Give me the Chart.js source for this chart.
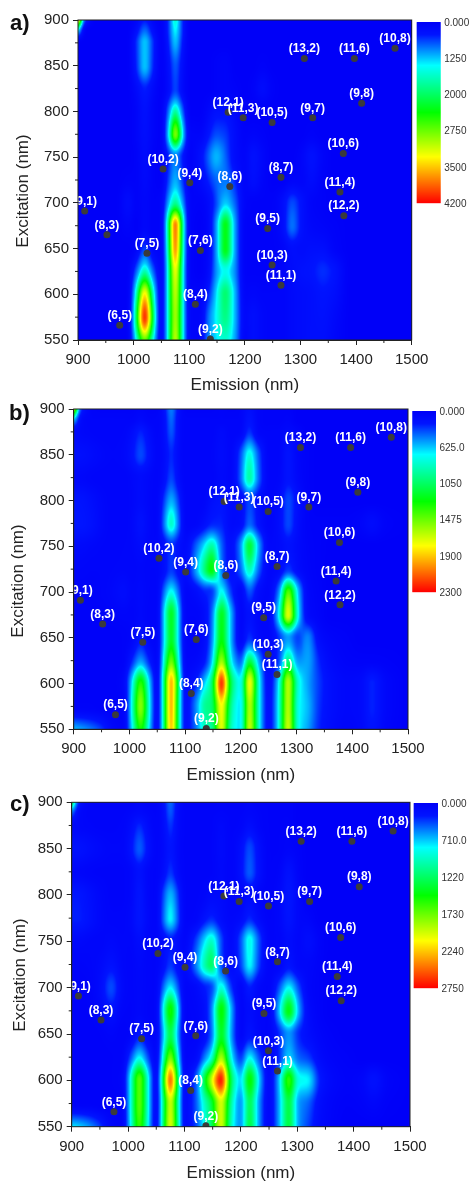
<!DOCTYPE html>
<html><head><meta charset="utf-8">
<script src="https://cdn.jsdelivr.net/npm/chart.js@4"></script>
<style>
html,body{margin:0;padding:0;background:#fff;width:471px;height:1182px;overflow:hidden}
canvas{position:absolute;left:0;filter:blur(0.35px)}
</style></head><body>
<canvas id="pa" width="471" height="396" style="top:0"></canvas>
<canvas id="pb" width="471" height="396" style="top:390px"></canvas>
<canvas id="pc" width="471" height="404" style="top:780px"></canvas>
<script>
const emission=[900,912,930,950,970,990,1005,1020,1035,1050,1062,1075,1088,1100,1120,1135,1148,1165,1182,1200,1215,1232,1250,1268,1285,1302,1320,1340,1360,1390,1415,1435,1460,1500];
const excitation=[900,888,875,850,825,800,775,750,725,700,675,650,625,600,575,550];
const assignments=['(6,5)','(7,5)','(8,3)','(9,1)','(8,4)','(9,2)','(10,2)','(9,4)','(7,6)','(8,6)','(12,1)','(11,3)','(10,5)','(9,7)','(9,8)','(13,2)','(11,6)','(10,8)','(10,6)','(8,7)','(11,4)','(12,2)','(9,5)','(10,3)','(11,1)'];
const assignEm=[975,1024,952,912,1111,1138,1053,1101,1120,1173,1170,1197,1249,1322,1410,1307,1397,1470,1377,1265,1371,1378,1241,1249,1265];
const assignEx=[566,645,665,691,589,551,737,722,648,718,799,793,788,793,809,858,858,869,754,728,712,686,672,632,610];
const ticksA=['0.000','1250','2000','2750','3500','4200'];
const ticksB=['0.000','625.0','1050','1475','1900','2300'];
const ticksC=['0.000','710.0','1220','1730','2240','2750'];
const levelsA=[0,1250,2000,2750,3500,4200];
const levelsB=[0,625,1050,1475,1900,2300];
const levelsC=[0,710,1220,1730,2240,2750];
const intensityA=[
[4200,600,0,0,0,0,100,450,100,0,500,1700,500,0,0,0,0,0,0,0,0,0,0,0,0,0,0,0,0,0,0,0,0,0],
[1500,0,0,0,0,0,300,900,300,0,500,1500,500,0,0,0,0,0,0,0,0,0,0,0,0,0,0,0,0,0,0,0,0,0],
[0,0,0,0,0,0,550,1300,550,0,400,1300,400,0,0,0,0,0,0,0,0,0,0,0,0,0,0,0,0,0,0,0,0,0],
[0,0,0,0,0,0,500,1300,500,0,250,800,250,0,0,0,50,100,0,0,0,50,0,0,0,0,0,0,0,0,0,0,0,0],
[0,0,0,0,0,0,200,500,200,0,200,700,200,0,0,0,50,100,50,0,50,250,50,0,0,0,0,0,0,0,0,0,0,0],
[0,0,0,0,0,0,100,350,100,0,800,1900,800,0,0,150,350,350,150,0,0,0,0,0,0,0,0,0,0,0,0,0,0,0],
[0,0,0,0,0,0,100,300,100,0,1200,3000,1400,100,100,400,700,600,250,50,100,50,0,0,0,0,50,0,0,0,0,0,0,0],
[0,0,0,0,0,0,50,250,50,0,450,1000,450,50,300,800,1200,800,250,100,350,150,0,0,0,100,350,100,0,0,0,0,0,0],
[0,0,0,0,0,50,50,200,50,0,600,1200,600,50,200,500,800,900,500,100,300,100,0,0,100,100,250,50,0,0,0,0,0,0],
[0,0,0,0,0,250,50,150,50,100,1100,1900,1100,100,50,200,650,1300,800,100,50,50,50,250,700,350,100,50,0,0,0,0,0,0],
[0,0,0,0,0,100,0,150,50,100,1900,4000,1900,100,0,150,1000,2400,1100,50,50,50,50,250,900,350,150,100,50,0,0,0,0,0],
[0,0,0,0,0,0,100,700,150,100,1800,3900,1800,100,0,150,1000,2400,1100,50,50,50,50,100,300,250,300,300,100,0,0,0,0,0],
[0,0,0,0,0,0,800,1800,800,100,1600,3400,1600,100,0,200,1000,1500,1000,50,50,50,50,100,250,350,400,550,400,0,0,0,0,0],
[0,0,0,0,0,0,1700,3500,1700,100,1600,3200,1600,100,100,500,1300,2000,1200,100,150,100,100,100,200,250,300,400,300,0,0,0,0,0],
[0,0,0,0,0,0,2100,4200,2100,100,1600,3100,1600,150,100,900,1400,1900,1200,150,300,150,100,100,200,250,300,350,200,0,0,0,0,0],
[0,0,0,0,0,0,1500,2800,1500,100,1600,3200,1600,150,100,1000,1300,1600,1100,100,300,150,100,100,200,250,300,300,150,0,0,0,0,0]];
const intensityB=[
[2000,300,50,30,30,30,30,50,30,30,150,500,150,30,30,30,30,50,30,50,150,50,30,30,30,0,0,0,0,0,0,0,0,0],
[700,100,50,50,50,50,50,100,50,50,120,450,120,50,50,50,50,50,50,50,200,50,30,30,50,0,0,0,0,0,0,0,0,0],
[100,80,60,50,50,60,120,250,120,50,120,400,120,50,50,50,50,100,50,60,300,60,50,50,100,50,0,0,0,0,0,0,0,0],
[150,150,120,80,60,80,180,350,180,60,100,280,100,50,50,50,60,120,60,350,800,350,50,50,200,60,20,0,0,0,0,0,0,0],
[80,80,60,50,50,50,80,120,80,50,130,350,130,50,50,50,50,100,60,400,950,400,50,60,200,80,20,0,0,0,0,0,0,0],
[200,200,150,80,50,50,70,120,70,50,300,600,300,50,50,60,150,200,100,100,350,150,50,100,350,150,30,0,0,0,0,0,0,0],
[220,220,180,90,50,50,80,180,80,50,420,880,420,50,60,150,250,250,100,120,420,170,50,120,350,130,30,20,20,20,50,120,30,0],
[100,100,80,60,50,60,70,120,70,60,150,300,170,100,400,700,950,400,150,500,1200,550,80,100,180,100,40,20,0,0,0,0,0,0],
[60,60,50,50,60,70,60,80,60,60,150,320,170,120,550,1000,1300,450,150,400,900,400,70,100,300,120,50,20,0,0,0,0,0,0],
[40,40,40,50,80,130,70,90,60,50,420,780,420,60,120,250,280,780,300,60,380,120,60,450,1500,650,80,30,0,0,0,0,0,0],
[30,30,30,30,40,60,50,90,50,50,650,1250,650,50,50,120,400,1250,600,50,180,70,60,700,1800,750,100,40,0,0,0,0,0,0],
[20,20,20,20,20,30,60,200,70,50,650,1250,650,50,40,120,450,1300,600,50,300,100,60,280,550,300,500,120,50,20,0,0,0,0],
[20,20,20,20,20,30,250,550,250,50,800,1550,800,60,80,200,600,1650,750,350,1150,550,80,300,1050,500,550,250,100,40,30,30,20,0],
[20,20,20,20,20,70,700,1400,700,60,1000,2050,1050,80,250,650,1000,2300,1100,700,1850,800,100,700,1700,800,550,300,150,80,100,250,80,0],
[30,30,30,20,20,20,800,1600,800,60,1000,2050,1000,120,500,950,1000,1850,950,650,1700,800,120,750,1700,750,600,280,150,80,100,250,80,0],
[600,550,450,300,80,30,700,1350,700,60,1000,2000,1000,120,450,850,900,1800,850,650,1750,800,120,750,1750,750,550,250,130,60,90,200,60,0]];
const intensityC=[
[1500,250,50,30,30,30,30,60,30,30,150,500,150,30,30,30,30,50,30,30,60,30,30,30,30,0,0,0,0,0,0,0,0,0],
[500,100,50,50,50,50,80,120,80,50,130,450,130,50,50,50,50,60,50,50,80,50,30,30,30,0,0,0,0,0,0,0,0,0],
[100,80,60,50,50,60,130,300,130,50,120,350,120,50,50,50,50,100,50,60,150,60,30,30,40,0,0,0,0,0,0,0,0,0],
[200,200,150,100,70,70,200,450,200,60,100,250,100,50,50,50,50,120,50,160,400,160,30,30,60,30,0,0,0,0,0,0,0,0],
[80,80,60,50,50,50,80,200,80,50,130,350,130,50,50,50,50,100,50,180,450,180,30,50,200,50,0,0,0,0,0,0,0,0],
[250,250,180,90,50,50,80,250,80,50,350,700,350,50,50,70,120,120,60,60,150,60,30,80,250,80,0,0,0,0,0,0,0,0],
[270,270,200,100,60,60,100,250,100,50,420,850,420,50,60,200,300,150,80,120,300,120,40,80,230,90,60,0,0,0,0,0,0,0],
[100,100,80,70,100,70,70,150,70,50,130,260,150,70,350,750,1000,380,100,400,900,400,50,60,150,80,150,40,0,0,0,0,0,0],
[50,50,60,100,200,80,60,100,60,50,160,350,170,100,500,1000,1250,380,120,350,850,350,50,60,220,90,80,30,0,0,0,0,0,0],
[30,30,40,130,400,100,60,90,60,50,450,850,450,60,100,250,350,950,350,60,280,90,50,400,850,400,70,30,0,0,0,0,0,0],
[20,20,30,80,200,60,50,90,50,50,800,1600,800,50,70,150,500,1550,700,50,150,70,50,700,1500,650,120,30,0,0,0,0,0,0],
[20,20,20,30,60,30,60,250,90,50,650,1350,650,50,50,150,450,1450,650,50,220,80,50,300,600,300,150,60,20,0,0,0,0,0],
[20,20,20,20,30,40,400,850,400,50,900,1850,900,60,100,500,900,1950,900,300,850,400,60,300,750,450,350,120,50,20,0,0,0,0],
[20,20,20,20,30,60,900,1750,900,60,1300,2600,1300,80,400,1300,1950,2750,1300,700,1550,750,80,700,1650,850,800,250,100,40,70,200,50,0],
[30,30,30,20,20,30,900,1750,900,60,1100,2050,1100,100,400,950,1300,2050,1100,550,1300,600,80,650,1350,600,450,150,60,20,40,80,20,0],
[800,750,600,350,80,30,850,1650,850,60,1150,2100,1150,100,350,850,1200,2050,1000,550,1350,600,70,650,1350,600,350,120,50,0,0,0,0,0]];

const colourStops=[[0,0,0,248],[0.07,0,20,255],[0.24,0,255,255],[0.5,0,255,0],[0.745,255,255,0],[1,255,0,0]];
function colourAt(p){
  p=Math.max(0,Math.min(1,p));
  for(let i=0;i<colourStops.length-1;i++){
    const a=colourStops[i],b=colourStops[i+1];
    if(p<=b[0]){const t=(p-a[0])/(b[0]-a[0]);return [a[1]+(b[1]-a[1])*t,a[2]+(b[2]-a[2])*t,a[3]+(b[3]-a[3])*t];}
  }
  return [255,0,0];
}
function valueToPos(v,levels){
  for(let i=0;i<levels.length-1;i++){
    if(v<=levels[i+1])return (i+(v-levels[i])/(levels[i+1]-levels[i]))/(levels.length-1);
  }
  return 1;
}
// monotone cubic through one row or column of read-off cells
function tangents(xs,ys){
  const n=xs.length,m=new Array(n).fill(0),d=[];
  for(let i=0;i<n-1;i++)d.push((ys[i+1]-ys[i])/(xs[i+1]-xs[i]));
  m[0]=d[0];m[n-1]=d[n-2];
  for(let i=1;i<n-1;i++){
    if(d[i-1]*d[i]>0){const h0=xs[i]-xs[i-1],h1=xs[i+1]-xs[i],w1=2*h1+h0,w2=h1+2*h0;m[i]=(w1+w2)/(w1/d[i-1]+w2/d[i]);}
  }
  return m;
}
function evalCurve(xs,ys,m,x){
  let i=0;while(i<xs.length-2&&x>xs[i+1])i++;
  const h=xs[i+1]-xs[i],t=Math.max(0,Math.min(1,(x-xs[i])/h)),t2=t*t,t3=t2*t;
  return (2*t3-3*t2+1)*ys[i]+(t3-2*t2+t)*h*m[i]+(-2*t3+3*t2)*ys[i+1]+(t3-t2)*h*m[i+1];
}
const heatPlugin={
  id:'panel',
  beforeDatasetsDraw(chart,args,o){
    const ctx=chart.ctx,ca=chart.chartArea,xS=chart.scales.x,yS=chart.scales.y;
    const L=Math.round(ca.left),T=Math.round(ca.top),W=Math.round(ca.right)-L,H=Math.round(ca.bottom)-T;
    const rowsAsc=excitation.slice().reverse();
    const grid=o.grid.slice().reverse();
    const rowM=grid.map(r=>tangents(emission,r));
    const img=ctx.createImageData(W,H);
    for(let px=0;px<W;px++){
      const nm=xS.getValueForPixel(L+px+0.5);
      const col=grid.map((r,i)=>{
        const m=rowM[i];
        return (evalCurve(emission,r,m,nm-5)+2*evalCurve(emission,r,m,nm)+evalCurve(emission,r,m,nm+5))/4;
      });
      const colM=tangents(rowsAsc,col);
      for(let py=0;py<H;py++){
        const ex=yS.getValueForPixel(T+py+0.5);
        const v=Math.max(0,evalCurve(rowsAsc,col,colM,ex));
        const c=colourAt(valueToPos(v,o.levels));
        const k=(py*W+px)*4;
        img.data[k]=c[0];img.data[k+1]=c[1];img.data[k+2]=c[2];img.data[k+3]=255;
      }
    }
    ctx.putImageData(img,L,T);
  },
  afterDatasetsDraw(chart){
    const ctx=chart.ctx,ca=chart.chartArea,xS=chart.scales.x,yS=chart.scales.y;
    ctx.save();
    ctx.beginPath();ctx.rect(ca.left,ca.top,ca.right-ca.left,ca.bottom-ca.top);ctx.clip();
    ctx.fillStyle='#fff';ctx.font='bold 12px "Liberation Sans"';ctx.textAlign='center';ctx.textBaseline='middle';
    assignments.forEach((t,i)=>ctx.fillText(t,xS.getPixelForValue(assignEm[i]),yS.getPixelForValue(assignEx[i])-9.5));
    ctx.restore();
  },
  afterDraw(chart,args,o){
    const ctx=chart.ctx,ca=chart.chartArea,xS=chart.scales.x,yS=chart.scales.y;
    ctx.save();
    ctx.strokeStyle='#222';ctx.lineWidth=1;
    ctx.strokeRect(ca.left,ca.top,ca.right-ca.left,ca.bottom-ca.top);
    ctx.beginPath();
    for(let v=950;v<1500;v+=100){const x=xS.getPixelForValue(v);ctx.moveTo(x,ca.bottom);ctx.lineTo(x,ca.bottom+3);}
    for(let v=575;v<900;v+=50){const y=yS.getPixelForValue(v);ctx.moveTo(ca.left,y);ctx.lineTo(ca.left-3,y);}
    ctx.stroke();
    // colour bar
    const b=o.bar;
    for(let y=b.t;y<b.b;y++){
      const c=colourAt((y-b.t+0.5)/(b.b-b.t));
      ctx.fillStyle='rgb('+c.map(Math.round).join(',')+')';
      ctx.fillRect(b.l,y,b.r-b.l,1.2);
    }
    ctx.fillStyle='#333';ctx.font='10px "Liberation Sans"';ctx.textAlign='left';ctx.textBaseline='middle';
    o.barTicks.forEach((t,i)=>ctx.fillText(t,b.r+3.5,b.t+1+(b.b-b.t)*i/(o.barTicks.length-1)));
    // panel letter and y title
    ctx.fillStyle='#111';ctx.font='bold 22px "Liberation Sans"';
    ctx.fillText(o.letter,o.letterX,o.letterY);
    ctx.fillStyle='#222';ctx.font='17px "Liberation Sans"';ctx.textAlign='center';
    ctx.translate(o.titleX,o.titleY);ctx.rotate(-Math.PI/2);ctx.fillText('Excitation (nm)',0,0);
    ctx.restore();
  }
};
function panel(id,grid,levels,barTicks,cfg){
  const cv=document.getElementById(id),h=cv.height;
  const cells=[];
  excitation.forEach((ex,r)=>emission.forEach((em,c)=>cells.push({x:em,y:ex,v:grid[r][c]})));
  new Chart(cv,{
    type:'scatter',
    data:{datasets:[
      {label:'intensity',data:cells,pointRadius:0,clip:0},
      {label:'assignments',data:assignEm.map((x,i)=>({x,y:assignEx[i]})),pointRadius:3.5,pointBackgroundColor:'#3b3b3b',pointBorderWidth:0,clip:0}
    ]},
    options:{
      responsive:false,animation:false,devicePixelRatio:1,
      layout:{padding:{left:0,right:471-cfg.r,top:cfg.t,bottom:0}},
      plugins:{legend:{display:false},tooltip:{enabled:false},
        panel:{grid,levels,barTicks,bar:cfg.bar,letter:cfg.letter,letterX:cfg.lx,letterY:cfg.ly,titleX:cfg.tx,titleY:cfg.ty}},
      scales:{
        x:{type:'linear',min:900,max:1500,
          ticks:{stepSize:100,color:'#222',font:{family:'"Liberation Sans"',size:15},padding:6,maxRotation:0,callback:v=>String(v)},
          grid:{drawOnChartArea:false,tickLength:5,color:'#222'},border:{color:'#222'},
          title:{display:true,text:'Emission (nm)',color:'#222',font:{family:'"Liberation Sans"',size:17},padding:{top:5,bottom:0}},
          afterFit(s){s.height=h-cfg.b;}},
        y:{type:'linear',min:550,max:900,
          ticks:{stepSize:50,color:'#222',font:{family:'"Liberation Sans"',size:15},padding:4,callback:v=>String(v)},
          grid:{drawOnChartArea:false,tickLength:5,color:'#222'},border:{color:'#222'},
          afterFit(s){s.width=cfg.l;}}
      }
    },
    plugins:[heatPlugin]
  });
}
panel('pa',intensityA,levelsA,ticksA,{l:78,r:411.7,t:20,b:340,letter:'a)',lx:10,ly:24,tx:23,ty:191,bar:{l:416.7,r:440.7,t:22,b:203}});
panel('pb',intensityB,levelsB,ticksB,{l:73.7,r:408,t:19,b:339.3,letter:'b)',lx:9,ly:24,tx:18,ty:191,bar:{l:412.3,r:436,t:21,b:202}});
panel('pc',intensityC,levelsC,ticksC,{l:71.7,r:410,t:22.3,b:346.7,letter:'c)',lx:10,ly:25,tx:20,ty:195,bar:{l:413.7,r:438,t:23,b:208}});
</script>
</body></html>
